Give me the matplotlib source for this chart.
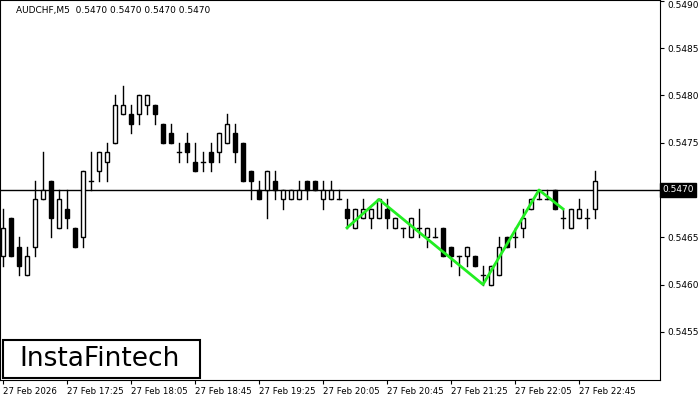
import matplotlib
matplotlib.use("Agg")
import matplotlib.pyplot as plt
from matplotlib.patches import Rectangle

opens  = [.5463,.5467,.5464,.5461,.5464,.5469,.5471,.5466,.5468,.5466,.5465,.5471,.5472,.5473,.5475,.5478,.5478,.5478,.5479,.5479,.5477,.5476,.5474,.5475,.5473,.5473,.5474,.5474,.5475,
          .5476,.5475,.5472,.5470,.5470,.5471,.5469,.5469,.5469,.5471,.5471,.5469,.5469,.5469,.5468,.5466,.5467,.5467,.5467,.5468,.5466,.5466,.5465,.5466,.5465,.5465,
          .5466,.5464,.5463,.5463,.5463,.5461,.5460,.5461,.5465,.5465,.5466,.5468,.5469,.5469,.5470,.5467,.5466,.5467,.5467,.5468]
closes = [.5466,.5463,.5462,.5463,.5469,.5470,.5467,.5469,.5467,.5464,.5472,.5471,.5474,.5474,.5479,.5479,.5477,.5480,.5480,.5478,.5475,.5475,.5474,.5474,.5472,.5473,.5473,.5476,.5477,
          .5474,.5471,.5471,.5469,.5472,.5470,.5470,.5470,.5470,.5470,.5470,.5470,.5470,.5469,.5467,.5468,.5468,.5468,.5469,.5467,.5467,.5466,.5467,.5466,.5466,.5465,
          .5463,.5463,.5463,.5464,.5462,.5461,.5462,.5464,.5464,.5465,.5467,.5469,.5469,.5469,.5468,.5467,.5468,.5468,.5467,.5471]
highs  = [.5468,.5467,.5465,.5464,.5471,.5474,.5471,.5470,.5470,.5466,.5472,.5474,.5474,.5475,.5480,.5481,.5479,.5480,.5480,.5479,.5477,.5477,.5475,.5476,.5475,.5474,.5475,.5476,.5478,
          .5477,.5475,.5472,.5471,.5472,.5472,.5470,.5470,.5471,.5471,.5471,.5471,.5471,.5470,.5469,.5468,.5469,.5468,.5469,.5469,.5467,.5466,.5467,.5468,.5466,.5466,
          .5466,.5464,.5463,.5464,.5463,.5462,.5462,.5465,.5465,.5466,.5468,.5469,.5470,.5470,.5470,.5468,.5468,.5469,.5468,.5472]
lows   = [.5462,.5463,.5461,.5461,.5463,.5469,.5465,.5466,.5466,.5464,.5464,.5470,.5471,.5471,.5475,.5478,.5476,.5477,.5478,.5477,.5475,.5475,.5473,.5473,.5472,.5472,.5472,.5473,.5475,
          .5473,.5471,.5469,.5469,.5467,.5469,.5468,.5469,.5469,.5469,.5470,.5468,.5469,.5469,.5466,.5466,.5467,.5466,.5467,.5466,.5466,.5465,.5465,.5465,.5464,.5465,
          .5463,.5462,.5461,.5462,.5462,.5460,.5460,.5461,.5464,.5464,.5465,.5468,.5469,.5469,.5468,.5466,.5466,.5467,.5466,.5467]
pattern_idx = [43, 47, 60, 67, 70]
pattern_px = [.5466, .5469, .5460, .5470, .5468]
tick_idx = [0, 8, 16, 24, 32, 40, 48, 56, 64, 72]
tick_labels = ["27 Feb 2026", "27 Feb 17:25", "27 Feb 18:05", "27 Feb 18:45", "27 Feb 19:25",
               "27 Feb 20:05", "27 Feb 20:45", "27 Feb 21:25", "27 Feb 22:05", "27 Feb 22:45"]
price_ticks = [0.5455, 0.5460, 0.5465, 0.5470, 0.5475, 0.5480, 0.5485, 0.5490]
last_price = 0.5470

YMIN, YMAX = 0.54499, 0.54901
fig = plt.figure(figsize=(7, 4), dpi=100)
ax = fig.add_axes([0, 20/400, 660/700, 380/400])
ax.set_xlim(-0.375, 82.125)
ax.set_ylim(YMIN, YMAX)

w = 0.6
for i, (o, c, h, l) in enumerate(zip(opens, closes, highs, lows)):
    ax.plot([i, i], [l, h], color="black", lw=1, zorder=2)
    lo, hi = min(o, c), max(o, c)
    if hi - lo < 1e-9:
        ax.plot([i - w/2, i + w/2], [o, o], color="black", lw=1, zorder=3)
    else:
        ax.add_patch(Rectangle((i - w/2, lo), w, hi - lo, facecolor="white" if c > o else "black",
                               edgecolor="black", lw=1, zorder=3))

ax.axhline(last_price, color="black", lw=1, zorder=1)
ax.plot(pattern_idx, pattern_px, color="#22ee22", lw=2, zorder=4)

ax.yaxis.tick_right()
ax.set_yticks(price_ticks)
ax.set_yticklabels([("" if abs(p - last_price) < 1e-9 else f"{p:.4f}") for p in price_ticks], fontsize=6.5)
ylabels = ax.get_yticklabels()
ylabels[-1].set_va("top")
ax.set_xticks(tick_idx)
ax.set_xticklabels(tick_labels, fontsize=6.2, ha="left")
ax.tick_params(axis="both", length=3, pad=2)
ax.text(1.004, (last_price - YMIN)/(YMAX - YMIN), f"{last_price:.4f}", transform=ax.transAxes,
        fontsize=6.5, color="white", va="center", ha="left",
        bbox=dict(boxstyle="square,pad=0.25", fc="black", ec="black"))
ax.text(0.025, 0.985, "AUDCHF,M5  0.5470 0.5470 0.5470 0.5470", transform=ax.transAxes,
        fontsize=6.5, va="top", ha="left")

fig.patches.append(Rectangle((3/700, 22/400), 197/700, 38/400, transform=fig.transFigure,
                             facecolor="white", edgecolor="black", lw=1.5, zorder=10))
fig.text(100/700, 41/400, "InstaFintech", fontsize=19, ha="center", va="center", zorder=11)

fig.savefig("out.png", dpi=100)
